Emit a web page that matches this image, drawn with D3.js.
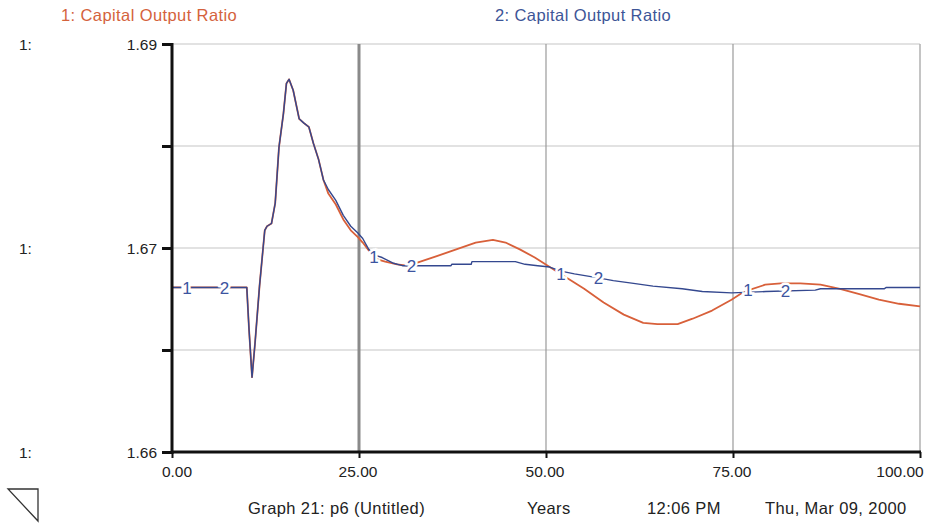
<!DOCTYPE html>
<html>
<head>
<meta charset="utf-8">
<script src="https://cdn.jsdelivr.net/npm/d3@7"></script>
<style>
  html, body { margin: 0; padding: 0; background: #ffffff; }
  svg { display: block; }
  text { font-family: "Liberation Sans", Arial, sans-serif; }
</style>
</head>
<body>
<svg id="chart" width="934" height="523"></svg>
<script>
// Series 1: Capital Output Ratio (run 1)
const time1 = [0, 10.0, 10.3, 10.7, 11.1, 11.7, 12.4, 12.7, 13.3, 13.8, 14.3, 14.9, 15.3, 15.65, 16.2, 17.0, 17.6, 18.3, 18.9, 19.6, 20.25,
  20.9, 21.9, 22.9, 23.9, 24.85, 25.5, 26.2, 27.2, 28.5, 30.1, 31.4, 32.7, 35.4, 38.0, 40.6, 42.9, 44.6, 46.5, 48.5, 50.5,
  52.5, 55.1, 57.7, 60.4, 63.0, 64.9, 67.6, 69.6, 72.2, 74.8, 76.5, 79.3, 81.4, 84.0, 86.7, 89.3, 91.9, 94.5, 97.2, 100];
const ratio1 = [1.6721, 1.6721, 1.6690, 1.6655, 1.6680, 1.6722, 1.6763, 1.6766, 1.6768, 1.6783, 1.6824, 1.6849, 1.6871, 1.6874, 1.6866, 1.6845, 1.6842, 1.6839, 1.6827, 1.6815, 1.6800,
  1.6790, 1.6782, 1.6771, 1.6763, 1.6758, 1.6754, 1.6749, 1.6742, 1.6740, 1.6738, 1.6737, 1.6739, 1.6744, 1.6749, 1.6754, 1.6756, 1.6754, 1.6749, 1.6743, 1.6736,
  1.6729, 1.6720, 1.6710, 1.6701, 1.6695, 1.6694, 1.6694, 1.6698, 1.6704, 1.6712, 1.6718, 1.6723, 1.6724, 1.6724, 1.6723, 1.6720, 1.6716, 1.6712, 1.6709, 1.6707];

// Series 2: Capital Output Ratio (run 2)
const time2 = [0, 10.0, 10.3, 10.7, 11.1, 11.7, 12.4, 12.7, 13.3, 13.8, 14.3, 14.9, 15.3, 15.65, 16.2, 17.0, 17.6, 18.3, 18.9, 19.6, 20.25,
  20.9, 21.9, 22.9, 23.9, 24.85, 25.5, 26.3, 27.0, 28.1, 29.5, 30.8, 33.1, 37.3, 37.4, 40.0, 40.1, 45.9, 47.2, 48.9, 50.5,
  52.0, 53.8, 57.0, 59.0, 61.7, 64.3, 68.2, 70.9, 74.8, 79.4, 86.0, 86.7, 95.2, 95.5, 100];
const ratio2 = [1.6721, 1.6721, 1.6690, 1.6655, 1.6680, 1.6722, 1.6763, 1.6766, 1.6768, 1.6783, 1.6824, 1.6849, 1.6871, 1.6874, 1.6866, 1.6845, 1.6842, 1.6839, 1.6827, 1.6815, 1.6800,
  1.6793, 1.6785, 1.6774, 1.6766, 1.6761, 1.6757, 1.6749, 1.6745, 1.6743, 1.6739, 1.6737, 1.6737, 1.6737, 1.6738, 1.6738, 1.6740, 1.6740, 1.6738, 1.6737, 1.6736,
  1.6733, 1.6731, 1.6728, 1.6726, 1.6724, 1.6722, 1.6720, 1.6718, 1.6717, 1.6718, 1.6719, 1.6720, 1.6720, 1.6721, 1.6721];

// Axis ticks and labels
const xTicks = [0, 25, 50, 75, 100];
const xTickLabels = ["0.00", "25.00", "50.00", "75.00", "100.00"];
const yTicks = [1.66, 1.6675, 1.675, 1.6825, 1.69];
const yTickLabels = [
  { value: 1.69, text: "1.69" },
  { value: 1.675, text: "1.67" },
  { value: 1.66, text: "1.66" }
];
const seriesNames = ["1: Capital Output Ratio", "2: Capital Output Ratio"];
// Curve markers: "1" on series 1, "2" on series 2
const markerTimes1 = [2, 27, 52, 77];
const markerTimes2 = [7, 32, 57, 82];

const colors = { s1: "#d8603a", s2: "#34488f", leg1: "#d4623c", leg2: "#3d5597", mark: "#3c54a0" };

const svg = d3.select("#chart");
const x = d3.scaleLinear().domain([0, 100]).range([172, 920]);
const y = d3.scaleLinear().domain([1.66, 1.69]).range([452, 44]);

const series1 = time1.map((t, i) => ({ t, v: ratio1[i] }));
const series2 = time2.map((t, i) => ({ t, v: ratio2[i] }));

// Horizontal gridlines
svg.append("g").selectAll("line")
  .data(yTicks.filter(v => v > 1.66))
  .join("line")
  .attr("x1", x(0)).attr("x2", x(100))
  .attr("y1", d => y(d)).attr("y2", d => y(d))
  .attr("stroke", "#d9d9d9").attr("stroke-width", 1.5);

// Vertical gridlines
const vGrid = [
  { t: 25, w: 3, c: "#8a8a8a" },
  { t: 50, w: 1.2, c: "#9a9a9a" },
  { t: 75, w: 1.2, c: "#9a9a9a" },
  { t: 100, w: 1.5, c: "#b0b0b0" }
];
svg.append("g").selectAll("line")
  .data(vGrid)
  .join("line")
  .attr("x1", d => x(d.t)).attr("x2", d => x(d.t))
  .attr("y1", y(1.69)).attr("y2", y(1.66))
  .attr("stroke", d => d.c).attr("stroke-width", d => d.w);

// Lines
const line = d3.line().x(d => x(d.t)).y(d => y(d.v));
svg.append("path").datum(series1)
  .attr("d", line).attr("fill", "none")
  .attr("stroke", colors.s1).attr("stroke-width", 1.8).attr("stroke-linejoin", "round");
svg.append("path").datum(series2)
  .attr("d", line).attr("fill", "none")
  .attr("stroke", colors.s2).attr("stroke-width", 1.4).attr("stroke-linejoin", "round");

// Curve number markers
function valueAt(series, t) {
  const i = d3.bisector(d => d.t).left(series, t);
  if (i <= 0) return series[0].v;
  if (i >= series.length) return series[series.length - 1].v;
  const a = series[i - 1], b = series[i];
  return a.v + (b.v - a.v) * (t - a.t) / (b.t - a.t);
}
const markers = markerTimes1.map(t => ({ t, v: valueAt(series1, t), label: "1" }))
  .concat(markerTimes2.map(t => ({ t, v: valueAt(series2, t), label: "2" })));
svg.append("g").selectAll("text")
  .data(markers)
  .join("text")
  .attr("x", d => x(d.t)).attr("y", d => y(d.v))
  .attr("dy", "0.36em")
  .attr("text-anchor", "middle")
  .attr("font-size", 17)
  .attr("fill", colors.mark)
  .attr("stroke", "#ffffff").attr("stroke-width", 5).attr("paint-order", "stroke")
  .text(d => d.label);

// Left axis
const yAxis = svg.append("g").attr("transform", `translate(${x(0)},0)`)
  .call(d3.axisLeft(y).tickValues(yTicks).tickSize(10).tickFormat(""));
yAxis.select(".domain").attr("stroke", "#111").attr("stroke-width", 3).attr("d", `M0,${y(1.69) - 1}V${y(1.66) + 2}`);
yAxis.selectAll(".tick line").attr("stroke", "#111").attr("stroke-width", 3);

svg.append("g").selectAll("text")
  .data(yTickLabels)
  .join("text")
  .attr("x", 157).attr("y", d => y(d.value))
  .attr("dy", "0.36em")
  .attr("text-anchor", "end")
  .attr("font-size", 15.5)
  .attr("fill", "#222")
  .text(d => d.text);
svg.append("g").selectAll("text")
  .data(yTickLabels)
  .join("text")
  .attr("x", 19).attr("y", d => y(d.value))
  .attr("dy", "0.36em")
  .attr("font-size", 15.5)
  .attr("fill", "#222")
  .text("1:");

// Bottom axis
const xAxis = svg.append("g").attr("transform", `translate(0,${y(1.66)})`)
  .call(d3.axisBottom(x).tickValues(xTicks).tickSize(6).tickFormat(""));
xAxis.select(".domain").attr("stroke", "#111").attr("stroke-width", 3).attr("d", `M${x(0) - 1},0H${x(100) + 1}`);
xAxis.selectAll(".tick line").attr("stroke", "#111").attr("stroke-width", 2);

svg.append("g").selectAll("text")
  .data(xTicks)
  .join("text")
  .attr("x", (d, i) => i === 0 ? x(d) + 5 : (i === xTicks.length - 1 ? x(d) - 20 : x(d) - 1))
  .attr("y", 477)
  .attr("text-anchor", "middle")
  .attr("font-size", 15.5)
  .attr("fill", "#222")
  .text((d, i) => xTickLabels[i]);

// Legend
svg.append("text").attr("x", 61).attr("y", 21).attr("font-size", 16.5).attr("letter-spacing", 0.4)
  .attr("fill", colors.leg1).text(seriesNames[0]);
svg.append("text").attr("x", 495).attr("y", 21).attr("font-size", 16.5).attr("letter-spacing", 0.4)
  .attr("fill", colors.leg2).text(seriesNames[1]);

// Footer
const footer = [
  { x: 248, text: "Graph 21: p6 (Untitled)" },
  { x: 527, text: "Years" },
  { x: 647, text: "12:06 PM" },
  { x: 765, text: "Thu, Mar 09, 2000" }
];
svg.append("g").selectAll("text")
  .data(footer)
  .join("text")
  .attr("x", d => d.x).attr("y", 514)
  .attr("font-size", 16.5).attr("letter-spacing", 0.4)
  .attr("fill", "#222")
  .text(d => d.text);

// Page corner marker
svg.append("path")
  .attr("d", "M8,489H38V521Z")
  .attr("fill", "none").attr("stroke", "#333").attr("stroke-width", 1.3);
</script>
</body>
</html>
